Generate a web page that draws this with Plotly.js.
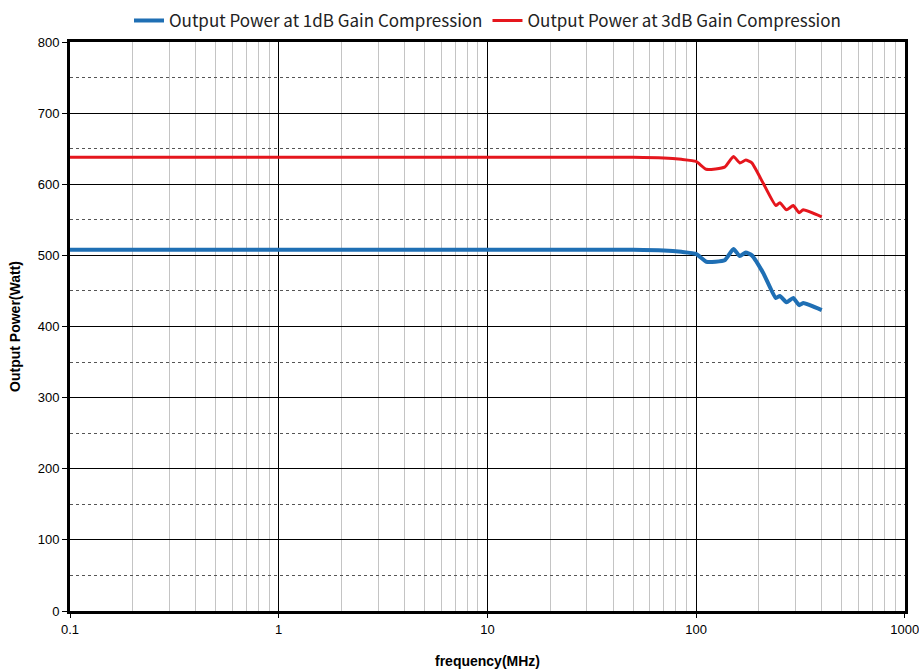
<!DOCTYPE html>
<html>
<head>
<meta charset="utf-8">
<script src="https://cdn.plot.ly/plotly-3.0.1.min.js"></script>
<style>html,body{margin:0;padding:0;background:#fff;}#chart{width:919px;height:669px;}</style>
</head>
<body>
<div id="chart"></div>
<script>
const freqMHz = [0.1, 1, 10, 50, 70, 85, 100, 112, 137, 151, 162, 173, 185, 210, 241, 252, 271, 292, 312, 326, 400];
const power1dB = [508, 508, 508, 508, 507, 505, 502, 491, 493, 509, 499, 504, 500, 475, 440, 443, 434, 440, 430, 433, 423];
const power3dB = [638, 638, 638, 638, 637, 635, 632, 621, 624, 639, 630, 634, 630, 601, 570, 574, 564, 570, 560, 564, 554];
const seriesNames = ["Output Power at 1dB Gain Compression", "Output Power at 3dB Gain Compression"];
const xTickVals = [0.1, 1, 10, 100, 1000];
const xTickText = ["0.1", "1", "10", "100", "1000"];

const traces = [
  {x: freqMHz, y: power1dB, name: seriesNames[0], mode: "lines",
   line: {color: "#1f6fb4", width: 4, shape: "spline", smoothing: 0.45}},
  {x: freqMHz, y: power3dB, name: seriesNames[1], mode: "lines",
   line: {color: "#e5161d", width: 3, shape: "spline", smoothing: 0.45}}
];

const layout = {
  width: 919, height: 669,
  margin: {l: 70, r: 14, t: 42, b: 58, autoexpand: false},
  paper_bgcolor: "#fff", plot_bgcolor: "#fff",
  showlegend: true,
  legend: {orientation: "h", x: 0.5, xanchor: "center", y: 1.037, yanchor: "middle",
    bgcolor: "rgba(0,0,0,0)",
    font: {family: "Noto Sans CJK JP", size: 17, color: "#222"}, itemwidth: 30, tracegroupgap: 0},
  xaxis: {type: "log", range: [-1, 3.001], tickvals: xTickVals, ticktext: xTickText,
    ticklabeloverflow: "allow",
    showgrid: true, gridcolor: "#000", gridwidth: 1,
    minor: {dtick: "D1", showgrid: true, gridcolor: "#c4c4c4", gridwidth: 1, ticks: ""},
    showline: true, linecolor: "#000", linewidth: 3, mirror: true,
    ticks: "outside", ticklen: 4, tickcolor: "#000",
    tickfont: {family: "Liberation Sans Narrow, Liberation Sans", size: 13, color: "#000"},
    title: {text: "<b>frequency(MHz)</b>", font: {family: "Liberation Sans Narrow, Liberation Sans", size: 14, color: "#000"}, standoff: 28},
    zeroline: false},
  yaxis: {range: [0, 800], dtick: 100, tick0: 0,
    showgrid: true, gridcolor: "#000", gridwidth: 1,
    minor: {dtick: 50, showgrid: true, gridcolor: "#555", gridwidth: 1, griddash: "dot", ticks: ""},
    showline: true, linecolor: "#000", linewidth: 3, mirror: true,
    ticks: "outside", ticklen: 5, tickcolor: "#000",
    tickfont: {family: "Liberation Sans Narrow, Liberation Sans", size: 13, color: "#000"},
    title: {text: "<b>Output Power(Watt)</b>", font: {family: "Liberation Sans", size: 14, color: "#000"}, standoff: 14},
    zeroline: false}
};

Plotly.newPlot("chart", traces, layout, {displayModeBar: false, staticPlot: true});
</script>
</body>
</html>
